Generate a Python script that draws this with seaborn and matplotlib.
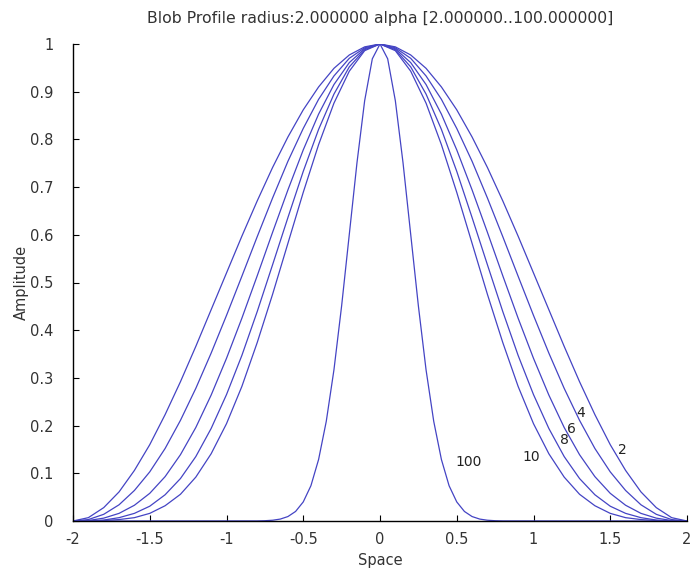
import matplotlib
matplotlib.use("Agg")
import matplotlib.pyplot as plt
import seaborn as sns
import pandas as pd

# ---------------- data ----------------
space = [-2.0, -1.9, -1.8, -1.7, -1.6, -1.5, -1.4, -1.3, -1.2, -1.1, -1.0,
         -0.9, -0.8, -0.7, -0.6, -0.5, -0.4, -0.3, -0.2, -0.1, 0.0,
         0.1, 0.2, 0.3, 0.4, 0.5, 0.6, 0.7, 0.8, 0.9, 1.0,
         1.1, 1.2, 1.3, 1.4, 1.5, 1.6, 1.7, 1.8, 1.9, 2.0]

amp_a2 = [0.000, 0.007, 0.028, 0.061, 0.106, 0.160, 0.223, 0.292, 0.366, 0.443, 0.520,
          0.597, 0.671, 0.741, 0.805, 0.862, 0.910, 0.949, 0.977, 0.994, 1.000,
          0.994, 0.977, 0.949, 0.910, 0.862, 0.805, 0.741, 0.671, 0.597, 0.520,
          0.443, 0.366, 0.292, 0.223, 0.160, 0.106, 0.061, 0.028, 0.007, 0.000]
amp_a4 = [0.000, 0.003, 0.014, 0.034, 0.064, 0.103, 0.152, 0.211, 0.278, 0.352, 0.431,
          0.513, 0.596, 0.677, 0.754, 0.823, 0.884, 0.933, 0.970, 0.992, 1.000,
          0.992, 0.970, 0.933, 0.884, 0.823, 0.754, 0.677, 0.596, 0.513, 0.431,
          0.352, 0.278, 0.211, 0.152, 0.103, 0.064, 0.034, 0.014, 0.003, 0.000]
amp_a6 = [0.000, 0.001, 0.006, 0.016, 0.033, 0.058, 0.093, 0.139, 0.196, 0.264, 0.341,
          0.425, 0.514, 0.605, 0.694, 0.778, 0.853, 0.915, 0.961, 0.990, 1.000,
          0.990, 0.961, 0.915, 0.853, 0.778, 0.694, 0.605, 0.514, 0.425, 0.341,
          0.264, 0.196, 0.139, 0.093, 0.058, 0.033, 0.016, 0.006, 0.001, 0.000]
amp_a8 = [0.000, 0.000, 0.002, 0.007, 0.016, 0.031, 0.055, 0.089, 0.135, 0.194, 0.265,
          0.347, 0.439, 0.537, 0.636, 0.733, 0.821, 0.895, 0.952, 0.988, 1.000,
          0.988, 0.952, 0.895, 0.821, 0.733, 0.636, 0.537, 0.439, 0.347, 0.265,
          0.194, 0.135, 0.089, 0.055, 0.031, 0.016, 0.007, 0.002, 0.000, 0.000]
amp_a10 = [0.000, 0.000, 0.001, 0.003, 0.007, 0.016, 0.032, 0.056, 0.092, 0.141, 0.204,
           0.282, 0.374, 0.475, 0.582, 0.689, 0.789, 0.876, 0.943, 0.986, 1.000,
           0.986, 0.943, 0.876, 0.789, 0.689, 0.582, 0.475, 0.374, 0.282, 0.204,
           0.141, 0.092, 0.056, 0.032, 0.016, 0.007, 0.003, 0.001, 0.000, 0.000]

space_100 = [-2.0, -0.8, -0.75, -0.7, -0.65, -0.6, -0.55, -0.5, -0.45, -0.4, -0.35,
             -0.3, -0.25, -0.2, -0.15, -0.1, -0.05, 0.0, 0.05, 0.1, 0.15, 0.2, 0.25,
             0.3, 0.35, 0.4, 0.45, 0.5, 0.55, 0.6, 0.65, 0.7, 0.75, 0.8, 2.0]
amp_a100 = [0.0, 0.0002, 0.0006, 0.0016, 0.0040, 0.0093, 0.020, 0.040, 0.074, 0.129,
            0.209, 0.317, 0.451, 0.601, 0.751, 0.881, 0.969, 1.000, 0.969, 0.881,
            0.751, 0.601, 0.451, 0.317, 0.209, 0.129, 0.074, 0.040, 0.020, 0.0093,
            0.0040, 0.0016, 0.0006, 0.0002, 0.0]

curve_labels = ["100", "10", "8", "6", "4", "2"]
label_x = [0.49, 0.93, 1.17, 1.22, 1.28, 1.55]
label_y = [0.124, 0.134, 0.170, 0.193, 0.226, 0.149]

x_ticks = [-2, -1.5, -1, -0.5, 0, 0.5, 1, 1.5, 2]
x_tick_labels = ["-2", "-1.5", "-1", "-0.5", "0", "0.5", "1", "1.5", "2"]
y_ticks = [0, 0.1, 0.2, 0.3, 0.4, 0.5, 0.6, 0.7, 0.8, 0.9, 1]
y_tick_labels = ["0", "0.1", "0.2", "0.3", "0.4", "0.5", "0.6", "0.7", "0.8", "0.9", "1"]

title = "Blob Profile radius:2.000000 alpha [2.000000..100.000000]"

# ---------------- plot ----------------
sns.set_theme(style="white")
plt.rcParams["font.family"] = ["DejaVu Sans"]

W, H = 691, 576
fig = plt.figure(figsize=(W / 100, H / 100), dpi=100)
fig.patch.set_facecolor("white")
ax = fig.add_axes([73 / W, 1 - 521 / H, (687 - 73) / W, (521 - 44) / H])
ax.set_facecolor("white")

line_color = "#4444c4"
rows = []
for name, amp in [("2", amp_a2), ("4", amp_a4), ("6", amp_a6), ("8", amp_a8), ("10", amp_a10)]:
    rows.append(pd.DataFrame({"Space": space, "Amplitude": amp, "alpha": name}))
rows.append(pd.DataFrame({"Space": space_100, "Amplitude": amp_a100, "alpha": "100"}))
df = pd.concat(rows, ignore_index=True)

for name, sub in df.groupby("alpha", sort=False):
    sns.lineplot(data=sub, x="Space", y="Amplitude", ax=ax, color=line_color,
                 linewidth=0.9, sort=False, estimator=None, legend=False)

for t, x, y in zip(curve_labels, label_x, label_y):
    ax.text(x, y, t, fontsize=10, color="#222222", ha="left", va="center")

ax.set_xlim(-2, 2)
ax.set_ylim(0, 1)
ax.set_xticks(x_ticks)
ax.set_xticklabels(x_tick_labels)
ax.set_yticks(y_ticks)
ax.set_yticklabels(y_tick_labels)
ax.tick_params(direction="in", length=4, width=0.8, colors="black",
               labelsize=10.5, labelcolor="#333333")
ax.tick_params(axis="x", bottom=True, pad=8)
ax.tick_params(axis="y", left=True, pad=14)

for side in ["top", "right"]:
    ax.spines[side].set_visible(False)
for side in ["left", "bottom"]:
    ax.spines[side].set_visible(True)
    ax.spines[side].set_color("black")
    ax.spines[side].set_linewidth(1.0)

ax.set_xlabel("Space", fontsize=10.5, color="#333333", labelpad=4)
ax.set_ylabel("Amplitude", fontsize=10.5, color="#333333", labelpad=1)
ax.set_title(title, fontsize=11.3, color="#333333", pad=15)
ax.grid(False)

fig.savefig("out.png", dpi=100, facecolor="white")
